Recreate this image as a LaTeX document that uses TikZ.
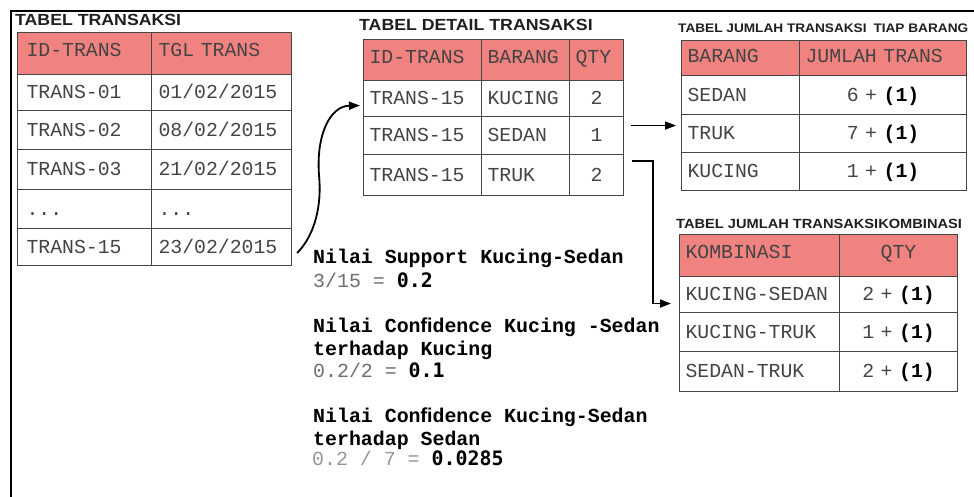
\documentclass[tikz,border=0pt]{standalone}
\usepackage{fontspec}
\setmainfont{Liberation Sans}
\newfontfamily\monofont{Liberation Mono}
\newfontfamily\valfont{DejaVu Sans Mono}
\newfontfamily\titlefont[FakeStretch=1.1]{Liberation Sans}
\usetikzlibrary{arrows.meta,calc}
\definecolor{hdr}{RGB}{240,130,128}
\definecolor{gridc}{RGB}{70,70,70}
\definecolor{txt}{RGB}{68,68,68}
\definecolor{lgray}{RGB}{110,110,110}
\definecolor{llgray}{RGB}{150,150,150}
\newcommand\fixsp{\fontdimen2\font=0.6em\fontdimen3\font=0pt\fontdimen4\font=0pt\relax}
\newcommand\monosize{\monofont\fontsize{19.8}{22}\selectfont\fixsp}
\newcommand\parasize{\monofont\fontsize{19.9}{22}\selectfont\fixsp}
\tikzset{
  cell/.style={draw=gridc, line width=1.1pt, rectangle, anchor=north west,
    inner xsep=7pt, inner ysep=0pt, text height=12pt, text depth=0pt,
    font=\monosize, text=txt, align=left},
  hcell/.style={cell, fill=hdr, text depth=6pt},
  ctr/.style={align=center},
  ttl/.style={anchor=base west, inner sep=0pt, text=black!88},
  para/.style={anchor=base west, inner sep=0pt, font=\parasize},
  conn/.style={line width=1.8pt, -{Triangle[length=11pt,width=8pt]}},
  framestyle/.style={line width=2.5pt, line join=miter}
}
\newcommand\bv[1]{{\monofont\bfseries\fixsp\color{black}#1}}
\newcommand\rv[1]{{\valfont\bfseries\fixsp\color{black}#1}}
\newcommand\bl{\bfseries\fixsp}
\begin{document}
\begin{tikzpicture}[x=1pt,y=-1pt]
\useasboundingbox (0,0) rectangle (974,497);
\draw[framestyle] (11,497) -- (11,11) -- (974,11);

% ---------- Table 1 ----------
\node[ttl, font=\titlefont\bfseries\fontsize{16.1}{18}\selectfont] (t1t) at (15,26) {TABEL TRANSAKSI};
\node[hcell, inner xsep=9pt, minimum width=134pt, minimum height=42pt, text width=116pt] (t1ha) at (17,32) {ID-TRANS};
\node[hcell, minimum width=140pt, minimum height=42pt, text width=126pt] (t1hb) at (151,32) {TGL TRANS};
\node[cell, inner xsep=9pt, minimum width=134pt, minimum height=36pt, text width=116pt] (t1r1a) at (17,74) {TRANS-01};
\node[cell, minimum width=140pt, minimum height=36pt, text width=126pt] (t1r1b) at (151,74) {01/02/2015};
\node[cell, inner xsep=9pt, minimum width=134pt, minimum height=39pt, text width=116pt] (t1r2a) at (17,110) {TRANS-02};
\node[cell, minimum width=140pt, minimum height=39pt, text width=126pt] (t1r2b) at (151,110) {08/02/2015};
\node[cell, inner xsep=9pt, minimum width=134pt, minimum height=40pt, text width=116pt] (t1r3a) at (17,149) {TRANS-03};
\node[cell, minimum width=140pt, minimum height=40pt, text width=126pt] (t1r3b) at (151,149) {21/02/2015};
\node[cell, inner xsep=9pt, minimum width=134pt, minimum height=39pt, text width=116pt] (t1r4a) at (17,189) {...};
\node[cell, minimum width=140pt, minimum height=39pt, text width=126pt] (t1r4b) at (151,189) {...};
\node[cell, inner xsep=9pt, minimum width=134pt, minimum height=37pt, text width=116pt] (t1r5a) at (17,228) {TRANS-15};
\node[cell, minimum width=140pt, minimum height=37pt, text width=126pt] (t1r5b) at (151,228) {23/02/2015};

% ---------- Table 2 ----------
\node[ttl, font=\titlefont\bfseries\fontsize{16.1}{18}\selectfont] (t2t) at (359,31) {TABEL DETAIL TRANSAKSI};
\node[hcell, inner xsep=6pt, minimum width=118pt, minimum height=41pt, text width=106pt] (t2ha) at (363,39) {ID-TRANS};
\node[hcell, inner xsep=6pt, minimum width=88pt, minimum height=41pt, text width=76pt] (t2hb) at (481,39) {BARANG};
\node[hcell, inner xsep=6pt, minimum width=54pt, minimum height=41pt, text width=42pt] (t2hc) at (569,39) {QTY};
\node[cell, inner xsep=6pt, minimum width=118pt, minimum height=36pt, text width=106pt] (t2r1a) at (363,80) {TRANS-15};
\node[cell, inner xsep=6pt, minimum width=88pt, minimum height=36pt, text width=76pt] (t2r1b) at (481,80) {KUCING};
\node[cell, ctr, inner xsep=6pt, minimum width=54pt, minimum height=36pt, text width=42pt] (t2r1c) at (569,80) {2};
\node[cell, inner xsep=6pt, minimum width=118pt, minimum height=38pt, text width=106pt] (t2r2a) at (363,116) {TRANS-15};
\node[cell, inner xsep=6pt, minimum width=88pt, minimum height=38pt, text width=76pt] (t2r2b) at (481,116) {SEDAN};
\node[cell, ctr, inner xsep=6pt, minimum width=54pt, minimum height=38pt, text width=42pt] (t2r2c) at (569,116) {1};
\node[cell, inner xsep=6pt, minimum width=118pt, minimum height=41pt, text width=106pt] (t2r3a) at (363,154) {TRANS-15};
\node[cell, inner xsep=6pt, minimum width=88pt, minimum height=41pt, text width=76pt] (t2r3b) at (481,154) {TRUK};
\node[cell, ctr, inner xsep=6pt, minimum width=54pt, minimum height=41pt, text width=42pt] (t2r3c) at (569,154) {2};

% ---------- Table 3 ----------
\node[ttl, font=\titlefont\bfseries\fontsize{12.4}{14}\selectfont] (t3t) at (678,33) {TABEL JUMLAH TRANSAKSI\hspace{0.25em} TIAP BARANG};
\node[hcell, inner xsep=6pt, minimum width=118pt, minimum height=35pt, text width=106pt, text depth=3pt] (t3ha) at (681,40) {BARANG};
\node[hcell, inner xsep=6pt, minimum width=167pt, minimum height=35pt, text width=155pt, text depth=3pt] (t3hb) at (799,40) {JUMLAH TRANS};
\node[cell, inner xsep=6pt, minimum width=118pt, minimum height=39pt, text width=106pt] (t3r1a) at (681,75) {SEDAN};
\node[cell, ctr, inner xsep=6pt, minimum width=167pt, minimum height=39pt, text width=155pt] (t3r1b) at (799,75) {6 + \bv{(1)}};
\node[cell, inner xsep=6pt, minimum width=118pt, minimum height=38pt, text width=106pt] (t3r2a) at (681,114) {TRUK};
\node[cell, ctr, inner xsep=6pt, minimum width=167pt, minimum height=38pt, text width=155pt] (t3r2b) at (799,114) {7 + \bv{(1)}};
\node[cell, inner xsep=6pt, minimum width=118pt, minimum height=38pt, text width=106pt] (t3r3a) at (681,152) {KUCING};
\node[cell, ctr, inner xsep=6pt, minimum width=167pt, minimum height=38pt, text width=155pt] (t3r3b) at (799,152) {1 + \bv{(1)}};

% ---------- Table 4 ----------
\node[ttl, font=\titlefont\bfseries\fontsize{13.3}{15}\selectfont] (t4t) at (676,228) {TABEL JUMLAH TRANSAKSIKOMBINASI};
\node[hcell, inner xsep=6pt, minimum width=160pt, minimum height=42pt, text width=148pt] (t4ha) at (679,234) {KOMBINASI};
\node[hcell, ctr, inner xsep=6pt, minimum width=118pt, minimum height=42pt, text width=106pt] (t4hb) at (839,234) {QTY};
\node[cell, inner xsep=6pt, minimum width=160pt, minimum height=36pt, text width=148pt] (t4r1a) at (679,276) {KUCING-SEDAN};
\node[cell, ctr, inner xsep=6pt, minimum width=118pt, minimum height=36pt, text width=106pt] (t4r1b) at (839,276) {2 + \bv{(1)}};
\node[cell, inner xsep=6pt, minimum width=160pt, minimum height=39pt, text width=148pt] (t4r2a) at (679,312) {KUCING-TRUK};
\node[cell, ctr, inner xsep=6pt, minimum width=118pt, minimum height=39pt, text width=106pt] (t4r2b) at (839,312) {1 + \bv{(1)}};
\node[cell, inner xsep=6pt, minimum width=160pt, minimum height=40pt, text width=148pt] (t4r3a) at (679,351) {SEDAN-TRUK};
\node[cell, ctr, inner xsep=6pt, minimum width=118pt, minimum height=40pt, text width=106pt] (t4r3b) at (839,351) {2 + \bv{(1)}};

% ---------- Text ----------
\node[para] (p1) at (313,263) {\bl Nilai Support Kucing-Sedan};
\node[para] (p2) at (313,287) {\color{lgray}3/15 = \rv{0.2}};
\node[para] (p3) at (313,332) {\bl Nilai Con^^^^fb01dence Kucing -Sedan};
\node[para] (p4) at (313,355) {\bl terhadap Kucing};
\node[para] (p5) at (313,377) {\color{lgray}0.2/2 = \rv{0.1}};
\node[para] (p6) at (313,422) {\bl Nilai Con^^^^fb01dence Kucing-Sedan};
\node[para] (p7) at (313,445) {\bl terhadap Sedan};
\node[para] (p8) at (312,465) {\color{llgray}0.2 / 7 = \rv{0.0285}};

% ---------- Connectors ----------
\coordinate (a1s) at ($(t1r5b.east)+(5,6)$);
\coordinate (a1e) at ($(t2r1a.west)+(-3,7)$);
\draw[conn] (a1s) .. controls (315,235) and (322,205) .. (319,175)
                  .. controls (316,135) and (330,106) .. (a1e);
\coordinate (a2s) at ($(t2r2c.east)+(7,-10)$);
\draw[conn, shorten >=5pt] (a2s) -- (a2s -| t3r2a.west);
\coordinate (a3s) at ($(t2r3c.east)+(8,-14)$);
\draw[conn, shorten >=8pt] (a3s) -- ($(a3s)+(21,0)$) |- ($(t4r1a.west)+(0,9)$);
\end{tikzpicture}
\end{document}
